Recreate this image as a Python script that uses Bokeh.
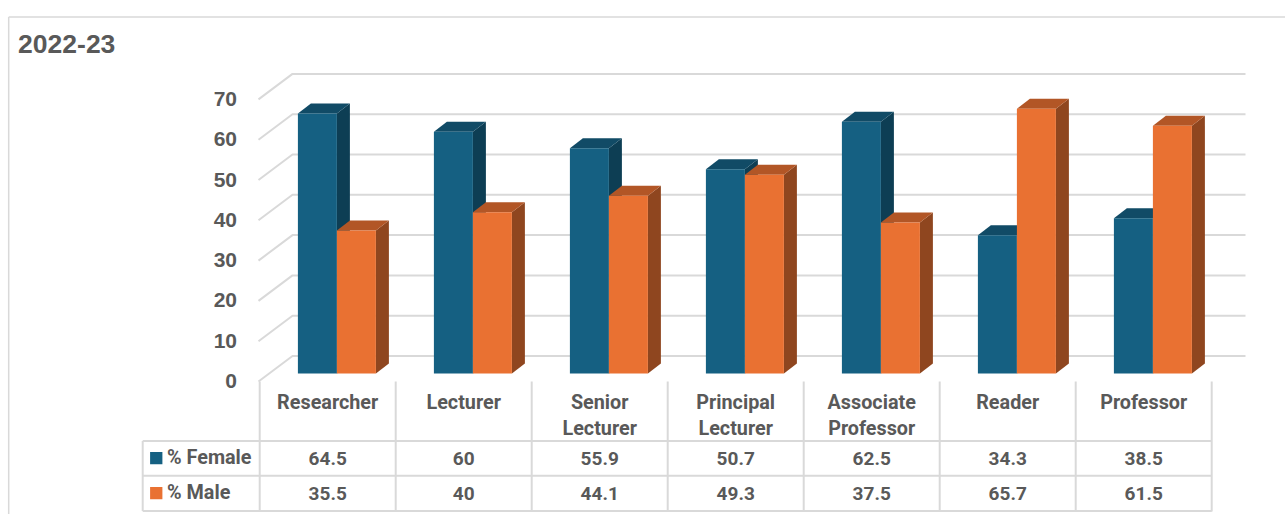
from bokeh.plotting import figure
from bokeh.models import Range1d
from bokeh.core.properties import value
from bokeh.embed import file_html
from bokeh.resources import INLINE

title_text = "2022-23"
categories = [["Researcher"], ["Lecturer"], ["Senior", "Lecturer"], ["Principal", "Lecturer"],
              ["Associate", "Professor"], ["Reader"], ["Professor"]]
female = [64.5, 60, 55.9, 50.7, 62.5, 34.3, 38.5]
male = [35.5, 40, 44.1, 49.3, 37.5, 65.7, 61.5]
female_labels = ["64.5", "60", "55.9", "50.7", "62.5", "34.3", "38.5"]
male_labels = ["35.5", "40", "44.1", "49.3", "37.5", "65.7", "61.5"]
y_ticks = [0, 10, 20, 30, 40, 50, 60, 70]

W, H = 1285, 514
PX_X = 136.0       # pixels per category
PX_Y = 4.03        # pixels per value unit
X0_PX = 336.4      # x of the shared edge of the first pair
Y0_PX = 373.0      # y of value 0 at the bars' front


def X(px):
    return (px - X0_PX) / PX_X


def Y(py):
    return (Y0_PX - py) / PX_Y


p = figure(width=W, height=H, output_backend="svg", toolbar_location=None,
           x_range=Range1d(X(0), X(W)), y_range=Range1d(Y(H), Y(0)),
           min_border=0, outline_line_color=None)
p.xaxis.visible = False
p.yaxis.visible = False
p.grid.visible = False
p.background_fill_color = "white"
p.border_fill_color = "white"

GRID = "#D9D9D9"
TXT = "#595959"

# chart frame
p.line([X(8.2), X(8.2)], [Y(514), Y(16.5)], line_color=GRID, line_width=1.5)
p.line([X(8.2), X(1285)], [Y(16.5), Y(16.5)], line_color=GRID, line_width=1.5)

# walls: back gridlines and slanted side lines
FRONT_Y = Y(381.0)
BACK_DY = (381.0 - 355.5) / PX_Y
SL_DX = 34.0 / PX_X
LEFT = X(258.0)
RIGHT = X(1245)
for t in y_ticks:
    p.line([LEFT, LEFT + SL_DX, RIGHT],
           [FRONT_Y + t, FRONT_Y + t + BACK_DY, FRONT_Y + t + BACK_DY],
           line_color=GRID, line_width=2)

# 3D bars, pair by pair so that overlaps stack left to right
BAR_W = 39.0 / PX_X
DEPTH_X = 13.0 / PX_X
DEPTH_Y = 10.0 / PX_Y
F_C = ("#156082", "#114B66", "#0D3E54")
M_C = ("#E97132", "#B25626", "#8F461F")
for i in range(len(categories)):
    for vals, off, cols in ((female, -BAR_W, F_C), (male, 0.0, M_C)):
        x, v = i + off, vals[i]
        p.patch([x + BAR_W, x + BAR_W + DEPTH_X, x + BAR_W + DEPTH_X, x + BAR_W],
                [0, DEPTH_Y, v + DEPTH_Y, v], fill_color=cols[2], line_color=None)
        p.patch([x, x + DEPTH_X, x + BAR_W + DEPTH_X, x + BAR_W],
                [v, v + DEPTH_Y, v + DEPTH_Y, v], fill_color=cols[1], line_color=None)
        p.quad(left=[x], right=[x + BAR_W], bottom=[0], top=[v], fill_color=cols[0], line_color=None)

# table lines
col_x = [259.2 + PX_X * i for i in range(8)]
for cx in col_x:
    p.line([X(cx), X(cx)], [Y(381), Y(511)], line_color=GRID, line_width=2)
for ry in (440.6, 475.3, 510.6):
    p.line([X(142.2), X(col_x[-1])], [Y(ry), Y(ry)], line_color=GRID, line_width=2)
p.line([X(142.2), X(142.2)], [Y(440.6), Y(510.6)], line_color=GRID, line_width=2)

# legend keys
p.quad(left=[X(149.6)], right=[X(161.9)], top=[Y(451.4)], bottom=[Y(463.7)], fill_color=F_C[0], line_color=None)
p.quad(left=[X(149.6)], right=[X(161.9)], top=[Y(486.4)], bottom=[Y(498.7)], fill_color=M_C[0], line_color=None)


def txt(x, y, s, size, font="Roboto", align="center"):
    p.text([x], [y], text=[s], text_font=value(font), text_font_style="bold",
           text_font_size=f"{size}px", text_color=TXT, text_align=align, text_baseline="middle")


txt(X(17.6), Y(43), title_text, 26.5, "Liberation Sans", "left")
for t in y_ticks:
    txt(X(236.5), FRONT_Y + t + 0.1, str(t), 21, "Liberation Sans", "right")
txt(X(166.5), Y(457), "% Female", 19.8, align="left")
txt(X(166.5), Y(492), "% Male", 19.8, align="left")
for i, lines in enumerate(categories):
    cx = X(col_x[i] + PX_X / 2)
    for k, s in enumerate(lines):
        txt(cx, Y(402 + 26 * k), s, 19.8)
    txt(cx, Y(457.5), female_labels[i], 19)
    txt(cx, Y(492.5), male_labels[i], 19)

open("out.html", "w").write(file_html(p, INLINE))
